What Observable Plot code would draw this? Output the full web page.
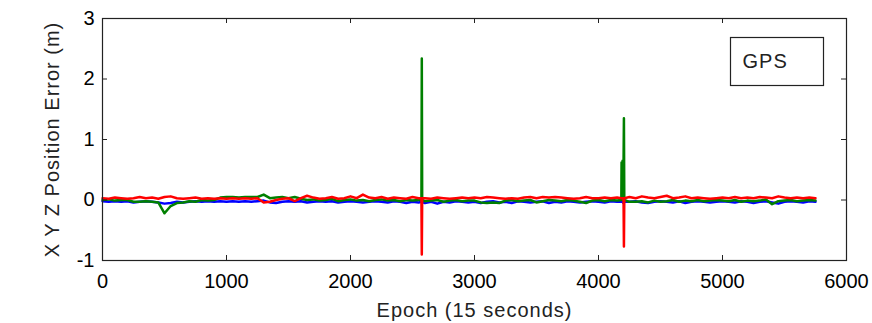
<!DOCTYPE html>
<html>
<head>
<meta charset="utf-8">
<script src="https://cdn.jsdelivr.net/npm/d3@7"></script>
<script src="https://cdn.jsdelivr.net/npm/@observablehq/plot@0.6"></script>
<style>
  html, body { margin: 0; padding: 0; background: #fff; }
  #chart svg { display: block; }
  g[aria-label="text"] text { letter-spacing: 1px; }
</style>
</head>
<body>
<div id="chart"></div>
<script>
// ---------- data ----------
const xLabel = "Epoch (15 seconds)";
const yLabel = "X Y Z Position Error (m)";
const legendText = "GPS";
const xTicks = [0, 1000, 2000, 3000, 4000, 5000, 6000];
const yTicks = [-1, 0, 1, 2, 3];

const epochs = [
  0,50,100,150,200,250,300,350,400,450,500,550,600,650,700,750,800,850,900,950,
  1000,1050,1100,1150,1200,1250,1300,1350,1400,1450,1500,1550,1600,1650,1700,1750,1800,1850,1900,1950,
  2000,2050,2100,2150,2200,2250,2300,2350,2400,2450,2500,2550,2600,2650,2700,2750,2800,2850,2900,2950,
  3000,3050,3100,3150,3200,3250,3300,3350,3400,3450,3500,3550,3600,3650,3700,3750,3800,3850,3900,3950,
  4000,4050,4100,4150,4200,4250,4300,4350,4400,4450,4500,4550,4600,4650,4700,4750,4800,4850,4900,4950,
  5000,5050,5100,5150,5200,5250,5300,5350,5400,5450,5500,5550,5600,5650,5700,5750
];
// X error (blue)
const xErr = [
  -0.02,-0.03,-0.02,-0.03,-0.02,-0.04,-0.03,-0.02,-0.03,-0.04,-0.06,-0.05,-0.03,-0.04,-0.03,-0.02,-0.03,-0.02,-0.03,-0.02,
  -0.03,-0.02,-0.03,-0.02,-0.03,-0.02,-0.01,-0.04,-0.05,-0.03,-0.02,-0.03,-0.02,-0.04,-0.03,-0.02,-0.03,-0.02,-0.04,-0.03,
  -0.02,-0.03,-0.04,-0.03,-0.02,-0.03,-0.04,-0.02,-0.03,-0.05,-0.03,-0.04,-0.05,-0.03,-0.06,-0.03,-0.04,-0.02,-0.03,-0.04,
  -0.03,-0.05,-0.03,-0.02,-0.04,-0.03,-0.05,-0.02,-0.03,-0.04,-0.03,-0.02,-0.05,-0.03,-0.04,-0.02,-0.03,-0.04,-0.03,-0.02,
  -0.03,-0.04,-0.02,-0.03,-0.05,-0.03,-0.02,-0.04,-0.05,-0.03,-0.02,-0.03,-0.04,-0.02,-0.05,-0.03,-0.02,-0.03,-0.04,-0.03,
  -0.02,-0.03,-0.04,-0.02,-0.03,-0.05,-0.03,-0.02,-0.04,-0.06,-0.03,-0.02,-0.03,-0.04,-0.02,-0.03
];
// Y error (green)
const yErr = [
  0.00,0.01,-0.01,0.00,0.00,-0.03,-0.03,-0.02,-0.03,-0.04,-0.22,-0.10,-0.05,-0.04,-0.02,-0.03,0.00,-0.01,0.00,0.04,
  0.05,0.05,0.04,0.05,0.05,0.05,0.09,0.03,0.04,0.05,0.03,0.05,0.02,0.00,0.01,-0.01,0.00,0.02,-0.02,0.00,
  0.01,-0.01,0.00,-0.02,0.00,0.01,-0.01,0.00,-0.02,0.00,-0.01,0.00,-0.02,-0.01,0.00,-0.03,-0.01,0.00,-0.02,-0.01,
  -0.01,-0.04,-0.05,-0.04,-0.05,-0.01,0.00,-0.02,-0.01,0.00,-0.04,-0.02,0.00,-0.01,-0.02,0.00,-0.01,-0.03,-0.05,-0.01,
  0.00,-0.02,0.00,-0.01,0.00,-0.03,-0.03,-0.02,-0.04,-0.01,-0.03,-0.02,0.00,-0.03,-0.01,-0.02,0.00,-0.02,-0.01,0.00,
  -0.01,-0.02,0.00,-0.03,-0.01,-0.02,-0.01,0.01,-0.07,-0.02,-0.01,0.00,-0.02,-0.01,0.00,-0.01
];
// Z error (red)
const zErr = [
  0.03,0.02,0.04,0.03,0.02,0.03,0.05,0.03,0.04,0.02,0.05,0.06,0.03,0.02,0.03,0.04,0.02,0.03,0.02,0.03,
  0.02,0.03,0.02,0.03,0.02,0.03,-0.04,-0.03,0.00,0.02,0.03,-0.02,0.03,0.07,0.04,0.02,0.03,0.05,0.02,0.03,
  0.06,0.03,0.09,0.04,0.03,0.05,0.02,0.04,0.03,0.02,0.05,0.03,0.03,0.02,0.04,0.03,0.02,0.03,0.04,0.03,
  0.04,0.03,0.05,0.04,0.03,0.02,0.03,0.02,0.04,0.05,0.03,0.05,0.04,0.05,0.04,0.03,0.02,0.03,0.05,0.03,
  0.03,0.04,0.03,0.04,0.03,0.05,0.03,0.06,0.04,0.03,0.05,0.07,0.03,0.04,0.06,0.03,0.04,0.03,0.02,0.03,
  0.04,0.03,0.05,0.03,0.04,0.03,0.05,0.04,0.03,0.06,0.04,0.03,0.04,0.03,0.04,0.03
];
// outlier epochs (spikes)
const spikeEpochs = [2572, 2575, 2578, 4184, 4186, 4190, 4194, 4198, 4202, 4205, 4208];
const spikeX = [-0.03, -0.03, -0.03, -0.03, -0.03, -0.03, -0.03, -0.03, -0.03, -0.03, -0.03];
const spikeY = [0.00, 2.34, 0.00, 0.00, 0.62, 0.05, 0.65, 0.00, 0.60, 1.35, 0.00];
const spikeZ = [0.03, -0.90, 0.03, 0.03, 0.03, 0.03, 0.03, 0.03, 0.03, -0.77, 0.03];

// ---------- build table ----------
const rows = [];
epochs.forEach((e, i) => rows.push({epoch: e, x: xErr[i], y: yErr[i], z: zErr[i]}));
spikeEpochs.forEach((e, i) => rows.push({epoch: e, x: spikeX[i], y: spikeY[i], z: spikeZ[i]}));
rows.sort((a, b) => a.epoch - b.epoch);

const W = 872, H = 323, mL = 102, mR = 26, mT = 18, mB = 63;
const pw = W - mL - mR, ph = H - mT - mB;
const font = "'Liberation Sans', Arial, Helvetica, sans-serif";

const chart = Plot.plot({
  width: W, height: H,
  marginLeft: mL, marginRight: mR, marginTop: mT, marginBottom: mB,
  style: {fontFamily: font, fontSize: "20px", background: "#fff", color: "#000", overflow: "visible"},
  x: {domain: [0, 6000], label: null},
  y: {domain: [-1, 3], label: null},
  marks: [
    Plot.line(rows, {x: "epoch", y: "x", stroke: "#0000ff", strokeWidth: 2.5}),
    Plot.line(rows, {x: "epoch", y: "y", stroke: "#008000", strokeWidth: 2.5}),
    Plot.line(rows, {x: "epoch", y: "z", stroke: "#ff0000", strokeWidth: 2.5}),
    Plot.frame({stroke: "#222", strokeWidth: 1.2}),
    // inward ticks
    Plot.tickX(xTicks, {x: d => d, stroke: "#222", insetTop: ph - 5}),
    Plot.tickX(xTicks, {x: d => d, stroke: "#222", insetBottom: ph - 5}),
    Plot.tickY(yTicks, {y: d => d, stroke: "#222", insetRight: pw - 5}),
    Plot.tickY(yTicks, {y: d => d, stroke: "#222", insetLeft: pw - 5}),
    Plot.axisX(xTicks, {tickSize: 0, tickPadding: 13, fontSize: 20, label: null, tickFormat: d => String(d)}),
    Plot.axisY(yTicks, {tickSize: 0, tickPadding: 8, fontSize: 20, label: null, tickFormat: d => String(d)}),
    // axis titles
    Plot.text([xLabel], {text: d => d, frameAnchor: "bottom", dy: 56, lineAnchor: "bottom", fontSize: 20, fill: "#222"}),
    Plot.text([yLabel], {text: d => d, frameAnchor: "left", dx: -44, rotate: -90, textAnchor: "middle", lineAnchor: "bottom", fontSize: 20, fill: "#222"}),
    // legend box
    Plot.frame({stroke: "#222", strokeWidth: 1.2, insetLeft: 628, insetRight: 23, insetTop: 19, insetBottom: 175}),
    Plot.text([legendText], {text: d => d, frameAnchor: "top-left", dx: 640, dy: 49, lineAnchor: "bottom", textAnchor: "start", fontSize: 20, fill: "#222"})
  ]
});
document.getElementById("chart").appendChild(chart);
</script>
</body>
</html>
